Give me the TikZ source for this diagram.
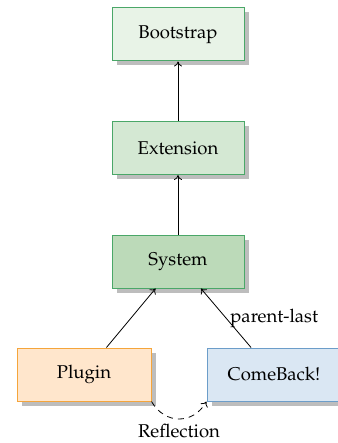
\documentclass[tikz,border=0pt]{standalone}
\usepackage[T1]{fontenc}
\usepackage{mathpazo}
\usetikzlibrary{shadows,arrows.meta}

\definecolor{greenline}{HTML}{4AA768}
\definecolor{bootfill}{HTML}{E8F3E7}
\definecolor{extfill}{HTML}{D4E8D3}
\definecolor{sysfill}{HTML}{BCDAB9}
\definecolor{plugline}{HTML}{F5A53B}
\definecolor{plugfill}{HTML}{FFE6CC}
\definecolor{backline}{HTML}{6C9DC9}
\definecolor{backfill}{HTML}{DAE7F3}
\definecolor{shadowgray}{HTML}{BDBDBD}

\tikzset{
  box/.style={rectangle, draw, line width=1pt, minimum width=132pt,
    minimum height=53pt, inner sep=0pt,
    font=\fontsize{18.5}{22}\selectfont,
    drop shadow={shadow xshift=4.5pt, shadow yshift=-4.5pt, fill=shadowgray, opacity=1}},
  greenbox/.style={box, draw=greenline},
  link/.style={-{To[length=5pt,width=8pt]}, line width=0.8pt},
  lbl/.style={font=\fontsize{18.5}{22}\selectfont}
}

\begin{document}
\begin{tikzpicture}[x=1pt,y=-1pt]
  \useasboundingbox (0,0) rectangle (337,443);

  \node[greenbox, fill=bootfill] (boot) at (178,34.5) {Bootstrap};
  \node[greenbox, fill=extfill] (ext) at (178,148) {Extension};
  \node[greenbox, fill=sysfill] (sys) at (178,261.5) {System};
  \node[box, draw=plugline, fill=plugfill, minimum width=134pt] (plug) at (84,374.5) {Plugin};
  \node[box, draw=backline, fill=backfill, minimum width=134pt] (back) at (274,374.5) {ComeBack!};

  \draw[link] (ext) -- (boot);
  \draw[link] (sys) -- (ext);
  \draw[link] (plug) -- (sys);
  \draw[link] (back) -- node[lbl, right, inner sep=4pt] {parent-last} (sys);
  \draw[link, dashed, dash pattern=on 6pt off 5pt]
    (plug.south east) to[bend right=60, looseness=1.25]
    node[lbl, below, inner sep=5pt] {Reflection} (back.south west);
\end{tikzpicture}
\end{document}
